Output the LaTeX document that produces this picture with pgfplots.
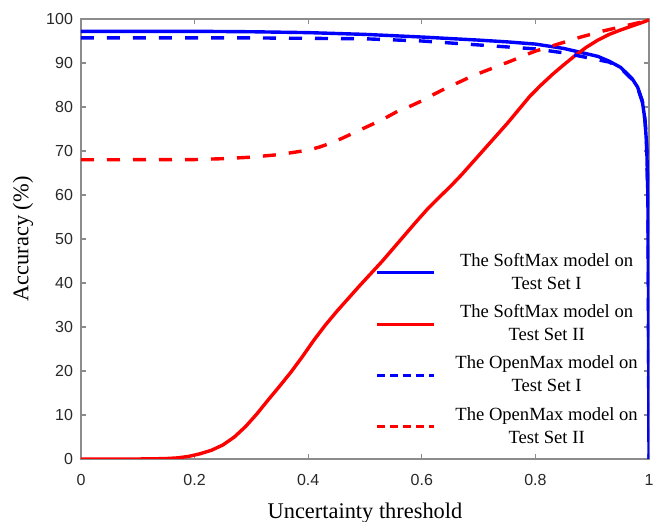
\documentclass[border=0pt]{standalone}
\usepackage{pgfplots}
\pgfplotsset{compat=1.18}
\usepackage{fontspec}
\setmainfont{Liberation Serif}
\setsansfont{Liberation Sans}
\definecolor{axgray}{RGB}{140,140,140}
\definecolor{tickc}{RGB}{40,40,40}
\definecolor{mblue}{RGB}{0,0,255}
\definecolor{mred}{RGB}{255,0,0}
\begin{document}
\begin{tikzpicture}
\begin{axis}[
  scale only axis, width=284pt, height=220pt,
  xmin=0, xmax=1, ymin=0, ymax=100,
  xtick={0,0.2,0.4,0.6,0.8,1},
  ytick={0,10,20,30,40,50,60,70,80,90,100},
  axis line style={axgray, line width=0.75pt},
  tick style={axgray, line width=0.6pt},
  major tick length=2.5pt,
  tick align=inside,
  /pgf/number format/assume math mode=true,
  tick label style={font=\sffamily\fontsize{8}{9}\selectfont, text=tickc},
  xticklabel style={yshift=-4pt},
  yticklabel style={xshift=-0.5pt},
  xlabel={Uncertainty threshold},
  ylabel={Accuracy (\%)},
  label style={font=\fontsize{11.2}{13}\selectfont},
  xlabel style={at={(axis description cs:0.5,-0.136)}, anchor=base},
  ylabel style={at={(axis description cs:-0.102,0.5)}, anchor=center},
  legend style={draw=none, fill=none, at={(rel axis cs:0.518,0.478)}, anchor=north west,
    inner sep=0pt, row sep=2.2pt, column sep=8pt,
    nodes={align=center, font=\fontsize{9.3}{11.5}\selectfont}},
  legend cell align=center,
  legend image code/.code={\draw[#1, line width=1.4pt] (0pt,0pt) -- (28.5pt,0pt);},
]
\addplot[mblue, line width=1.7pt] coordinates {
(0,97.2) (0.1,97.2) (0.2,97.2) (0.3,97.1) (0.4,96.9) (0.5,96.5) (0.6,95.9) (0.7,95.2)
(0.75,94.8) (0.8,94.3) (0.85,93.3) (0.88,92.4) (0.91,91.5) (0.93,90.4) (0.95,89.0)
(0.97,86.5) (0.98,84.5) (0.988,81.5) (0.993,77) (0.996,71) (0.998,60) (0.999,40) (1.0,0)};
\addlegendentry{The SoftMax model on\\Test Set I}
\addplot[mred, line width=1.7pt] coordinates {
(0,0) (0.05,0) (0.1,0) (0.13,0.05) (0.15,0.1) (0.17,0.25) (0.19,0.6) (0.21,1.2) (0.23,2.0)
(0.25,3.2) (0.27,5.0) (0.29,7.4) (0.31,10.3) (0.33,13.5) (0.35,16.6) (0.37,19.8)
(0.39,23.3) (0.41,27.0) (0.43,30.4) (0.45,33.5) (0.47,36.4) (0.49,39.3) (0.51,42.1)
(0.53,44.9) (0.55,47.9) (0.57,50.9) (0.59,53.9) (0.61,56.8) (0.63,59.4) (0.65,61.9)
(0.67,64.6) (0.69,67.5) (0.71,70.4) (0.73,73.3) (0.75,76.2) (0.77,79.3) (0.79,82.4)
(0.81,85.0) (0.83,87.4) (0.85,89.6) (0.87,91.7) (0.89,93.6) (0.91,95.2) (0.93,96.5)
(0.95,97.5) (0.97,98.4) (0.99,99.3) (1.0,99.8)};
\addlegendentry{The SoftMax model on\\Test Set II}
\addplot[mblue, line width=1.7pt, dash pattern=on 6.5pt off 6.5pt,
  legend image post style={dash pattern=on 4pt off 2.5pt}] coordinates {
(0,95.7) (0.3,95.7) (0.5,95.5) (0.6,95.0) (0.7,94.1) (0.8,93.2) (0.85,92.3) (0.9,91.0)
(0.93,90.2) (0.95,88.8) (0.97,86.3) (0.98,84.3) (0.99,80.5) (0.995,74) (0.998,60) (1.0,0)};
\addlegendentry{The OpenMax model on\\Test Set I}
\addplot[mred, line width=1.7pt, dash pattern=on 6.5pt off 6.5pt,
  legend image post style={dash pattern=on 4pt off 2.5pt}] coordinates {
(0,68.0) (0.2,68.05) (0.25,68.25) (0.3,68.6) (0.35,69.2) (0.4,70.2) (0.42,70.9)
(0.44,71.8) (0.46,72.9) (0.48,74.1) (0.5,75.3) (0.52,76.5) (0.54,77.8) (0.56,79.2)
(0.58,80.2) (0.6,81.4) (0.62,82.8) (0.64,84.1) (0.66,85.3) (0.68,86.5) (0.7,87.6)
(0.72,88.6) (0.74,89.6) (0.76,90.6) (0.78,91.7) (0.8,92.7) (0.82,93.5) (0.84,94.3)
(0.86,95.1) (0.88,95.9) (0.9,96.6) (0.92,97.3) (0.94,97.9) (0.96,98.5) (0.98,99.1) (1.0,99.7)};
\addlegendentry{The OpenMax model on\\Test Set II}
\coordinate (SW) at (rel axis cs:0,0);
\coordinate (NE) at (rel axis cs:1,1);
\end{axis}
\pgfresetboundingbox
\useasboundingbox ([shift={(-40.5pt,-31.5pt)}]SW) rectangle ([shift={(2pt,9.5pt)}]NE);
\end{tikzpicture}
\end{document}
